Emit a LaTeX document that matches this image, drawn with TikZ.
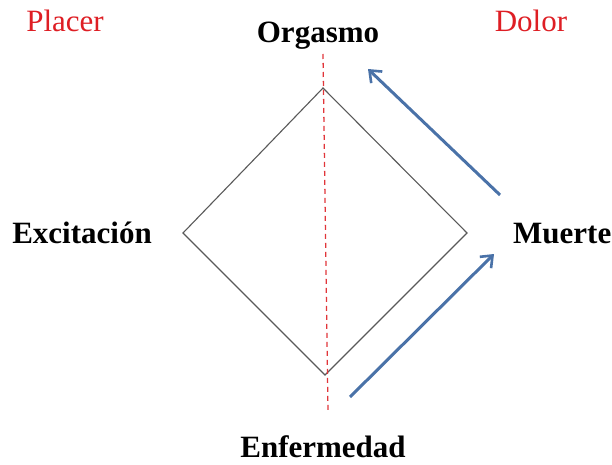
\documentclass[tikz,border=0pt]{standalone}
\usepackage{fontspec}
\setmainfont{Liberation Serif}
\usepackage{xcolor}
\usetikzlibrary{arrows.meta}
\definecolor{rojo}{RGB}{222,30,36}
\definecolor{azul}{RGB}{74,114,168}
\tikzset{
	lbl/.style={anchor=base, inner sep=0pt, font=\fontsize{31}{32}\selectfont\bfseries},
	lblr/.style={anchor=base, inner sep=0pt, font=\fontsize{31}{32}\selectfont, text=rojo},
	flecha/.style={azul, line width=3pt, -{Straight Barb[length=10pt, width=16pt, line width=2.6pt]}}
}

\begin{document}
\begin{tikzpicture}[x=1pt, y=-1pt]
	\useasboundingbox (0,0) rectangle (612,465);
	\coordinate (top) at (323,88);
	\coordinate (left) at (183,233);
	\coordinate (right) at (467,233);
	\coordinate (bot) at (325,375);
	\draw[line width=1.1pt, black!65] (top) -- (right) -- (bot) -- (left) -- cycle;
	\coordinate (ejeA) at (323,54);
	\coordinate (ejeB) at (328,412);
	\draw[rojo!90, line width=1.3pt, dash pattern=on 5pt off 4pt] (ejeA) -- (ejeB);
%	flechas
	\coordinate (a1) at (350,397);
	\coordinate (a2) at (494,254);
	\coordinate (b1) at (500,195);
	\coordinate (b2) at (368,69);
	\draw[flecha] (a1) -- (a2);
	\draw[flecha] (b1) -- (b2);
	\node[lblr] (placer) at (65,32) {Placer};
	\node[lblr] (dolor) at (531,32) {Dolor};
	\node[lbl] (orgasmo) at (318,43) {Orgasmo};
	\node[lbl] (excitacion) at (82,243) {Excitación};
	\node[lbl, anchor=base west] (muerte) at (513,243) {Muerte};
	\node[lbl] (enfermedad) at (323,457) {Enfermedad};
\end{tikzpicture}
\end{document}
